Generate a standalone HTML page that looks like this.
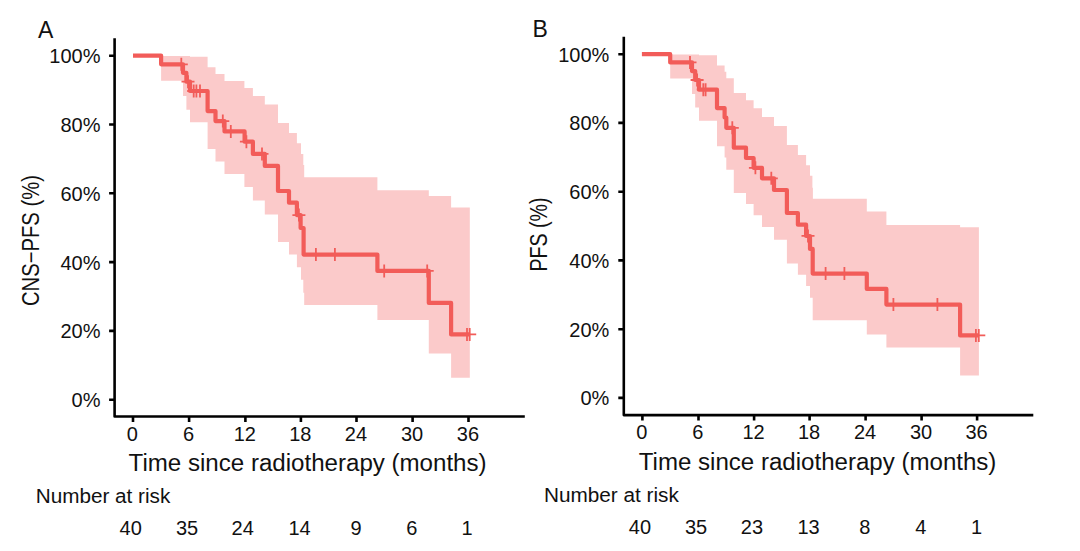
<!DOCTYPE html>
<html><head><meta charset="utf-8"><title>Kaplan-Meier curves</title>
<style>
html,body{margin:0;padding:0;background:#fff;}
body{width:1080px;height:551px;overflow:hidden;}
svg{display:block;}
.tk{font-family:'Liberation Sans', Arial, sans-serif;font-size:20px;fill:#111;}
.ttl{font-family:'Liberation Sans', Arial, sans-serif;font-size:22px;fill:#111;}
.nar{font-family:'Liberation Sans', Arial, sans-serif;font-size:20px;fill:#111;}
.num{font-family:'Liberation Sans', Arial, sans-serif;font-size:20px;fill:#111;}
.ttl2{font-family:'Liberation Sans', Arial, sans-serif;font-size:23px;fill:#111;}
.ylb{font-family:'Liberation Sans', Arial, sans-serif;font-size:23px;fill:#111;}
.ltr{font-family:'Liberation Sans', Arial, sans-serif;font-size:23px;fill:#111;}
</style></head>
<body>
<svg width="1080" height="551" viewBox="0 0 1080 551">
<rect width="1080" height="551" fill="#fff"/>
<path d="M161.1,56.1 L190.0,56.1 L190.0,56.7 L207.6,56.7 L207.6,67.2 L215.5,67.2 L215.5,74.1 L224.5,74.1 L224.5,80.9 L244.4,80.9 L244.4,88.0 L252.9,88.0 L252.9,96.0 L264.8,96.0 L264.8,104.4 L278.0,104.4 L278.0,122.9 L289.0,122.9 L289.0,133.0 L296.9,133.0 L296.9,143.2 L301.0,143.2 L301.0,154.0 L303.3,154.0 L303.3,164.9 L304.2,164.9 L304.2,177.2 L377.4,177.2 L377.4,190.2 L428.8,190.2 L428.8,196.1 L451.1,196.1 L451.1,207.6 L469.8,207.6 L469.8,377.8 L451.1,377.8 L451.1,353.6 L428.8,353.6 L428.8,320.0 L377.4,320.0 L377.4,305.0 L304.2,305.0 L304.2,292.8 L303.3,292.8 L303.3,279.8 L301.0,279.8 L301.0,267.2 L296.9,267.2 L296.9,254.6 L289.0,254.6 L289.0,242.0 L278.0,242.0 L278.0,214.4 L264.8,214.4 L264.8,200.6 L252.9,200.6 L252.9,187.0 L244.4,187.0 L244.4,173.9 L224.5,173.9 L224.5,161.4 L215.5,161.4 L215.5,148.9 L207.6,148.9 L207.6,122.2 L190.0,122.2 L190.0,109.8 L186.4,109.8 L186.4,95.9 L183.0,95.9 L183.0,80.8 L161.1,80.8Z" fill="#FBCACA"/>
<path d="M133.0,55.6 L161.1,55.6 L161.1,64.3 L183.0,64.3 L183.0,72.8 L186.4,72.8 L186.4,81.7 L190.0,81.7 L190.0,91.0 L207.6,91.0 L207.6,111.1 L215.5,111.1 L215.5,121.1 L224.5,121.1 L224.5,131.4 L244.6,131.4 L244.6,141.7 L252.9,141.7 L252.9,153.9 L264.8,153.9 L264.8,165.9 L278.0,165.9 L278.0,191.0 L289.0,191.0 L289.0,202.7 L296.9,202.7 L296.9,215.1 L300.6,215.1 L300.6,228.0 L303.6,228.0 L303.6,254.6 L377.4,254.6 L377.4,270.9 L428.8,270.9 L428.8,302.9 L451.1,302.9 L451.1,334.4 L469.8,334.4" fill="none" stroke="#F25C59" stroke-width="4.2" stroke-linejoin="round" stroke-linecap="butt"/>
<path d="M174.8,64.3h13.0M181.3,57.8v13.0M181.5,81.7h13.0M188.0,75.2v13.0M187.2,91.0h13.0M193.7,84.5v13.0M189.9,91.0h13.0M196.4,84.5v13.0M193.5,91.0h13.0M200.0,84.5v13.0M216.3,121.1h13.0M222.8,114.6v13.0M224.3,131.4h13.0M230.8,124.9v13.0M239.9,141.7h13.0M246.4,135.2v13.0M255.5,153.9h13.0M262.0,147.4v13.0M292.4,215.1h13.0M298.9,208.6v13.0M309.4,254.6h13.0M315.9,248.1v13.0M328.4,254.6h13.0M334.9,248.1v13.0M377.7,270.9h13.0M384.2,264.4v13.0M420.7,270.9h13.0M427.2,264.4v13.0M460.5,334.4h13.0M467.0,327.9v13.0M463.2,334.4h13.0M469.7,327.9v13.0" fill="none" stroke="#F25C59" stroke-width="1.8"/>
<path d="M114.6,38.3 V416.5 H524.8" fill="none" stroke="#000" stroke-width="2.6" stroke-linejoin="round"/>
<path d="M109.1,55.7H114.6M109.1,124.5H114.6M109.1,193.3H114.6M109.1,262.1H114.6M109.1,330.9H114.6M109.1,399.7H114.6M133.0,416.5v5.5M189.1,416.5v5.5M245.4,416.5v5.5M300.9,416.5v5.5M356.5,416.5v5.5M412.6,416.5v5.5M468.5,416.5v5.5" fill="none" stroke="#000" stroke-width="2.6"/>
<text x="100.5" y="63.1" text-anchor="end" class="tk">100%</text>
<text x="100.5" y="131.9" text-anchor="end" class="tk">80%</text>
<text x="100.5" y="200.7" text-anchor="end" class="tk">60%</text>
<text x="100.5" y="269.5" text-anchor="end" class="tk">40%</text>
<text x="100.5" y="338.3" text-anchor="end" class="tk">20%</text>
<text x="100.5" y="407.1" text-anchor="end" class="tk">0%</text>
<text x="132.4" y="441.0" text-anchor="middle" class="tk">0</text>
<text x="188.5" y="441.0" text-anchor="middle" class="tk">6</text>
<text x="244.8" y="441.0" text-anchor="middle" class="tk">12</text>
<text x="300.3" y="441.0" text-anchor="middle" class="tk">18</text>
<text x="355.9" y="441.0" text-anchor="middle" class="tk">24</text>
<text x="412.0" y="441.0" text-anchor="middle" class="tk">30</text>
<text x="467.9" y="441.0" text-anchor="middle" class="tk">36</text>
<text x="128.6" y="471.2" class="ttl2" textLength="358.0" lengthAdjust="spacingAndGlyphs">Time since radiotherapy (months)</text>
<text transform="translate(38.6,240.6) rotate(-90)" text-anchor="middle" class="ylb" textLength="131.0" lengthAdjust="spacingAndGlyphs">CNS−PFS (%)</text>
<text x="37.9" y="37.6" class="ltr">A</text>
<text x="35.7" y="503.4" class="nar" textLength="134.6" lengthAdjust="spacingAndGlyphs">Number at risk</text>
<text x="130.7" y="535.2" text-anchor="middle" class="num">40</text>
<text x="187.1" y="535.2" text-anchor="middle" class="num">35</text>
<text x="242.7" y="535.2" text-anchor="middle" class="num">24</text>
<text x="299.5" y="535.2" text-anchor="middle" class="num">14</text>
<text x="356.0" y="535.2" text-anchor="middle" class="num">9</text>
<text x="411.9" y="535.2" text-anchor="middle" class="num">6</text>
<text x="467.0" y="535.2" text-anchor="middle" class="num">1</text>
<path d="M670.2,54.4 L699.0,54.4 L699.0,55.2 L717.0,55.2 L717.0,65.6 L724.6,65.6 L724.6,71.7 L726.3,71.7 L726.3,78.3 L733.8,78.3 L733.8,93.0 L746.0,93.0 L746.0,100.3 L753.6,100.3 L753.6,108.3 L762.0,108.3 L762.0,117.0 L774.0,117.0 L774.0,126.1 L786.9,126.1 L786.9,145.0 L797.9,145.0 L797.9,155.0 L806.1,155.0 L806.1,165.3 L810.0,165.3 L810.0,175.8 L812.4,175.8 L812.4,187.8 L812.9,187.8 L812.9,198.7 L866.8,198.7 L866.8,211.4 L886.4,211.4 L886.4,225.0 L960.1,225.0 L960.1,227.3 L978.9,227.3 L978.9,375.4 L960.1,375.4 L960.1,347.6 L886.4,347.6 L886.4,334.5 L866.8,334.5 L866.8,320.2 L812.7,320.2 L812.7,297.8 L810.0,297.8 L810.0,286.0 L806.1,286.0 L806.1,274.8 L797.9,274.8 L797.9,263.6 L786.9,263.6 L786.9,239.8 L774.0,239.8 L774.0,227.0 L762.0,227.0 L762.0,215.2 L753.6,215.2 L753.6,203.9 L746.0,203.9 L746.0,193.1 L733.8,193.1 L733.8,169.8 L726.3,169.8 L726.3,157.6 L724.6,157.6 L724.6,146.2 L717.0,146.2 L717.0,120.8 L699.0,120.8 L699.0,107.4 L695.2,107.4 L695.2,93.9 L692.0,93.9 L692.0,78.6 L670.2,78.6Z" fill="#FBCACA"/>
<path d="M641.9,54.2 L670.2,54.2 L670.2,62.4 L692.0,62.4 L692.0,71.1 L695.2,71.1 L695.2,80.0 L699.0,80.0 L699.0,89.7 L717.0,89.7 L717.0,108.1 L724.6,108.1 L724.6,117.5 L726.3,117.5 L726.3,127.8 L733.8,127.8 L733.8,147.7 L746.0,147.7 L746.0,158.0 L753.6,158.0 L753.6,167.8 L762.0,167.8 L762.0,178.3 L774.0,178.3 L774.0,190.0 L786.9,190.0 L786.9,213.0 L797.9,213.0 L797.9,224.7 L806.1,224.7 L806.1,236.0 L810.0,236.0 L810.0,248.9 L812.7,248.9 L812.7,273.6 L866.8,273.6 L866.8,288.9 L886.4,288.9 L886.4,304.6 L960.1,304.6 L960.1,335.4 L978.9,335.4" fill="none" stroke="#F25C59" stroke-width="4.2" stroke-linejoin="round" stroke-linecap="butt"/>
<path d="M683.5,62.4h13.0M690.0,55.9v13.0M690.6,80.0h13.0M697.1,73.5v13.0M696.8,89.7h13.0M703.3,83.2v13.0M699.1,89.7h13.0M705.6,83.2v13.0M725.8,127.8h13.0M732.3,121.3v13.0M748.9,167.8h13.0M755.4,161.3v13.0M764.8,178.3h13.0M771.3,171.8v13.0M801.5,235.9h13.0M808.0,229.4v13.0M819.1,273.6h13.0M825.6,267.1v13.0M837.9,273.6h13.0M844.4,267.1v13.0M886.9,304.6h13.0M893.4,298.1v13.0M930.9,304.6h13.0M937.4,298.1v13.0M969.4,335.4h13.0M975.9,328.9v13.0M972.3,335.4h13.0M978.8,328.9v13.0" fill="none" stroke="#F25C59" stroke-width="1.8"/>
<path d="M623.8,36.7 V415.1 H1033.3" fill="none" stroke="#000" stroke-width="2.6" stroke-linejoin="round"/>
<path d="M618.3,54.2H623.8M618.3,122.9H623.8M618.3,191.7H623.8M618.3,260.4H623.8M618.3,329.2H623.8M618.3,397.9H623.8M642.4,415.1v5.5M698.5,415.1v5.5M754.1,415.1v5.5M809.6,415.1v5.5M865.6,415.1v5.5M921.6,415.1v5.5M977.1,415.1v5.5" fill="none" stroke="#000" stroke-width="2.6"/>
<text x="609.3" y="61.6" text-anchor="end" class="tk">100%</text>
<text x="609.3" y="130.3" text-anchor="end" class="tk">80%</text>
<text x="609.3" y="199.1" text-anchor="end" class="tk">60%</text>
<text x="609.3" y="267.8" text-anchor="end" class="tk">40%</text>
<text x="609.3" y="336.6" text-anchor="end" class="tk">20%</text>
<text x="609.3" y="405.3" text-anchor="end" class="tk">0%</text>
<text x="641.8" y="439.1" text-anchor="middle" class="tk">0</text>
<text x="697.9" y="439.1" text-anchor="middle" class="tk">6</text>
<text x="753.5" y="439.1" text-anchor="middle" class="tk">12</text>
<text x="809.0" y="439.1" text-anchor="middle" class="tk">18</text>
<text x="865.0" y="439.1" text-anchor="middle" class="tk">24</text>
<text x="921.0" y="439.1" text-anchor="middle" class="tk">30</text>
<text x="976.5" y="439.1" text-anchor="middle" class="tk">36</text>
<text x="638.8" y="469.8" class="ttl2" textLength="357.6" lengthAdjust="spacingAndGlyphs">Time since radiotherapy (months)</text>
<text transform="translate(547.3,234.6) rotate(-90)" text-anchor="middle" class="ylb" textLength="74.0" lengthAdjust="spacingAndGlyphs">PFS (%)</text>
<text x="532.4" y="36.6" class="ltr">B</text>
<text x="543.9" y="502.0" class="nar" textLength="135.0" lengthAdjust="spacingAndGlyphs">Number at risk</text>
<text x="639.9" y="533.8" text-anchor="middle" class="num">40</text>
<text x="696.1" y="533.8" text-anchor="middle" class="num">35</text>
<text x="751.9" y="533.8" text-anchor="middle" class="num">23</text>
<text x="808.5" y="533.8" text-anchor="middle" class="num">13</text>
<text x="864.8" y="533.8" text-anchor="middle" class="num">8</text>
<text x="920.7" y="533.8" text-anchor="middle" class="num">4</text>
<text x="976.5" y="533.8" text-anchor="middle" class="num">1</text>
</svg>
</body></html>
